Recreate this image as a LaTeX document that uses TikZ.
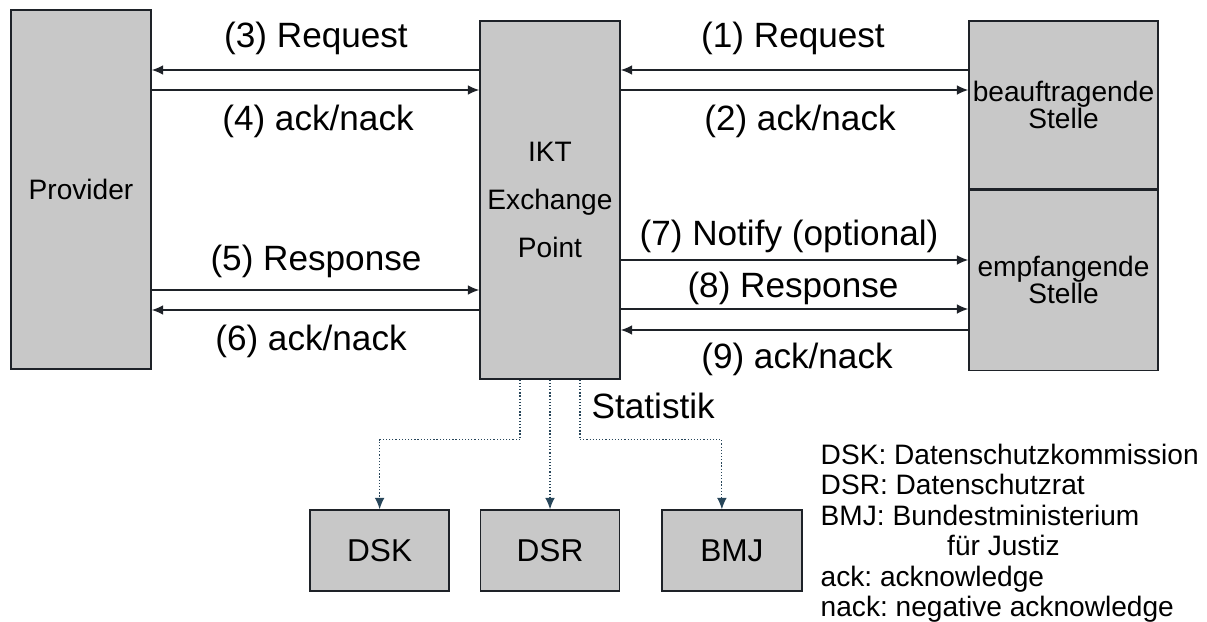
\documentclass[tikz,border=0pt]{standalone}
\usepackage{fontspec}
\setmainfont{Liberation Sans}
\usetikzlibrary{arrows.meta,positioning}
\definecolor{boxgray}{RGB}{200,200,200}
\definecolor{linecol}{RGB}{30,34,40}
\definecolor{dotcol}{RGB}{40,70,90}

\begin{document}
\begin{tikzpicture}[x=0.02cm,y=-0.02cm,>={Latex[length=6.5pt,width=5.5pt]},line width=0.8pt]
		\tikzstyle{box} = [rectangle, draw=linecol, fill=boxgray, inner sep=0pt, align=center, font=\fontsize{16}{18}\selectfont]
		\tikzstyle{msg} = [anchor=base, inner sep=0pt, font=\fontsize{20}{24}\selectfont]
		\tikzstyle{flow} = [->, draw=linecol]
		\tikzstyle{feed} = [->, draw=dotcol, dash pattern=on 0.7pt off 1.1pt, line width=0.7pt]
		\useasboundingbox (0,0) rectangle (1207,622);
		% Teilnehmer
		\node (prov) [box, minimum width=2.8cm, minimum height=7.18cm] at (81,189.5) {Provider};
		\node (ikt) [box, minimum width=2.8cm, minimum height=7.16cm, font=\fontsize{16}{27.3}\selectfont] at (550,200) {IKT\\Exchange\\Point};
		\node (bst) [box, minimum width=3.78cm, minimum height=3.36cm, font=\fontsize{16}{15.4}\selectfont] at (1063.5,105) {beauftragende\\Stelle};
		\node (est) [box, below=0pt of bst, minimum width=3.78cm, minimum height=3.6cm, font=\fontsize{16}{15.4}\selectfont] {empfangende\\Stelle};
		\node (dsr) [box, minimum width=2.78cm, minimum height=1.62cm, font=\fontsize{18}{20}\selectfont] at (550,550.5) {DSR};
		\node (dsk) [box, left=0.6cm of dsr, minimum width=2.78cm, minimum height=1.62cm, font=\fontsize{18}{20}\selectfont] {DSK};
		\node (bmj) [box, right=0.82cm of dsr, minimum width=2.8cm, minimum height=1.62cm, font=\fontsize{18}{20}\selectfont] {BMJ};
		% Nachrichten
		\draw[flow] (bst.west |- 0,70) -- (ikt.east |- 0,70);
		\draw[flow] (ikt.east |- 0,90) -- (bst.west |- 0,90);
		\draw[flow] (ikt.west |- 0,70) -- (prov.east |- 0,70);
		\draw[flow] (prov.east |- 0,90) -- (ikt.west |- 0,90);
		\draw[flow] (prov.east |- 0,290) -- (ikt.west |- 0,290);
		\draw[flow] (ikt.west |- 0,310) -- (prov.east |- 0,310);
		\draw[flow] (ikt.east |- 0,260) -- (est.west |- 0,260);
		\draw[flow] (ikt.east |- 0,309) -- (est.west |- 0,309);
		\draw[flow] (est.west |- 0,330) -- (ikt.east |- 0,330);
		\node (m1) [msg] at (793,48) {(1) Request};
		\node (m2) [msg] at (800,130) {(2) ack/nack};
		\node (m3) [msg] at (316,48) {(3) Request};
		\node (m4) [msg] at (318,130) {(4) ack/nack};
		\node (m5) [msg] at (316,270) {(5) Response};
		\node (m6) [msg] at (311,350) {(6) ack/nack};
		\node (m7) [msg] at (789,245) {(7) Notify (optional)};
		\node (m8) [msg] at (793,297) {(8) Response};
		\node (m9) [msg] at (797,368) {(9) ack/nack};
		% Statistik
		\draw[feed] ([xshift=-0.6cm]ikt.south) -- ++(0,60) -| (dsk.north);
		\draw[feed] (ikt.south) -- (dsr.north);
		\draw[feed] ([xshift=0.6cm]ikt.south) -- ++(0,60) -| ([xshift=-0.2cm]bmj.north);
		\node (statlbl) [msg, anchor=base west] at (591,418) {Statistik};
		\node (legend) [anchor=north west, inner sep=0pt, align=left, font=\fontsize{16}{17.4}\selectfont\frenchspacing] at (820,443) {DSK: Datenschutzkommission\\DSR: Datenschutzrat\\BMJ: Bundestministerium\\\hspace*{72pt}für Justiz\\ack: acknowledge\\nack: negative acknowledge};
	\end{tikzpicture}
\end{document}
